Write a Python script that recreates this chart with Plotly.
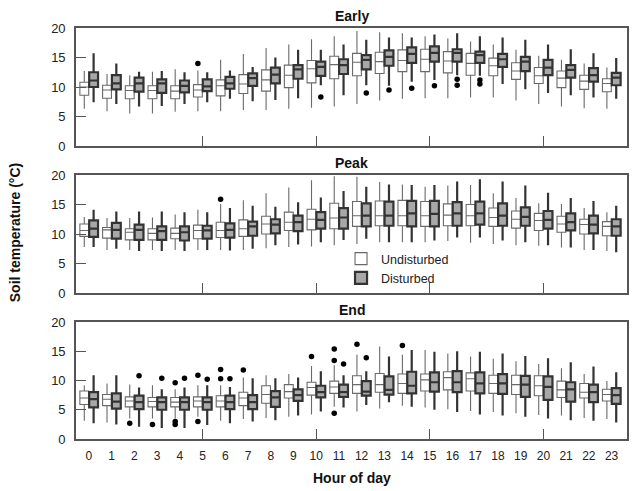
import plotly.graph_objects as go

HOURS = list(range(24))
HOUR_LABELS = [str(h) for h in HOURS]
PANELS = ["Early", "Peak", "End"]

# ---------------- Early ----------------
EARLY_U_Q1 = [8.6, 8.1, 8.0, 8.0, 8.0, 8.3, 8.5, 8.9, 9.3, 9.9, 10.7, 11.4, 11.9, 12.3, 12.6, 12.6, 12.4, 12.0, 11.9, 11.3, 10.6, 9.9, 9.6, 9.2]
EARLY_U_MED = [10.0, 9.5, 9.4, 9.4, 9.3, 9.5, 10.2, 10.5, 11.2, 12.0, 13.1, 13.8, 14.2, 14.3, 14.5, 14.7, 14.4, 14.0, 13.6, 12.7, 11.9, 11.5, 11.0, 10.6]
EARLY_U_Q3 = [10.8, 10.3, 10.2, 10.2, 10.2, 10.4, 11.2, 12.1, 12.9, 13.7, 14.5, 15.2, 15.7, 15.9, 16.3, 16.4, 16.0, 15.7, 14.9, 14.1, 13.3, 12.7, 12.0, 11.4]
EARLY_U_LO = [6.3, 5.9, 5.5, 5.5, 5.8, 5.9, 5.9, 6.1, 6.1, 6.3, 6.5, 6.7, 7.1, 7.7, 8.0, 8.1, 8.1, 8.2, 8.2, 7.7, 7.1, 6.7, 6.4, 6.3]
EARLY_U_HI = [12.7, 12.2, 12.0, 12.6, 13.0, 12.8, 14.6, 15.6, 16.6, 17.2, 18.1, 18.6, 19.5, 19.3, 19.1, 18.6, 18.2, 17.7, 17.2, 16.3, 15.3, 14.6, 14.0, 13.3]
EARLY_D_Q1 = [10.0, 9.6, 9.2, 9.0, 9.1, 9.3, 9.7, 10.2, 10.6, 11.4, 11.9, 12.2, 13.0, 13.6, 14.1, 14.3, 14.3, 14.1, 13.4, 12.7, 12.0, 11.6, 10.9, 10.3]
EARLY_D_MED = [11.1, 10.6, 10.6, 10.6, 10.2, 10.1, 10.6, 11.5, 12.1, 13.0, 13.4, 13.7, 14.6, 15.1, 15.6, 15.8, 15.8, 15.4, 14.7, 14.3, 13.3, 12.9, 12.0, 11.6]
EARLY_D_Q3 = [12.5, 12.0, 11.6, 11.3, 11.1, 11.3, 11.7, 12.3, 13.3, 13.7, 14.3, 14.7, 15.4, 16.2, 16.7, 16.9, 16.4, 16.0, 15.6, 15.1, 14.6, 13.7, 13.2, 12.4]
EARLY_D_LO = [7.4, 7.1, 6.7, 6.8, 7.1, 7.4, 8.0, 7.6, 7.8, 8.1, 10.3, 8.6, 10.3, 10.2, 10.9, 11.2, 12.0, 11.9, 10.5, 9.6, 9.0, 8.6, 8.2, 8.0]
EARLY_D_HI = [15.7, 14.0, 12.6, 12.7, 12.5, 12.5, 12.8, 13.4, 15.0, 16.3, 16.3, 17.2, 18.0, 18.4, 18.4, 18.9, 19.1, 18.6, 18.4, 18.0, 17.2, 16.4, 15.7, 14.9]
EARLY_U_OUT_H = [5]
EARLY_U_OUT_V = [14.0]
EARLY_D_OUT_H = [10, 12, 13, 14, 15, 16, 16, 17, 17]
EARLY_D_OUT_V = [8.3, 9.0, 9.5, 9.8, 10.2, 11.3, 10.3, 11.2, 10.5]

# ---------------- Peak ----------------
PEAK_U_Q1 = [9.6, 9.3, 9.0, 9.0, 9.2, 9.2, 9.4, 9.6, 10.0, 10.6, 10.7, 10.9, 11.3, 11.4, 11.4, 11.3, 11.4, 11.4, 11.3, 11.0, 10.6, 10.3, 10.0, 9.7]
PEAK_U_MED = [10.6, 10.7, 10.3, 10.1, 10.1, 10.6, 10.6, 10.9, 11.7, 12.0, 12.5, 12.7, 13.1, 13.1, 13.1, 13.1, 13.2, 13.1, 12.8, 12.5, 12.3, 11.7, 11.6, 11.3]
PEAK_U_Q3 = [11.7, 11.1, 10.9, 10.9, 11.0, 11.5, 12.0, 12.4, 13.0, 13.7, 14.2, 15.2, 15.5, 15.6, 15.7, 15.5, 15.1, 15.0, 14.4, 13.9, 13.5, 13.0, 12.5, 12.1]
PEAK_U_LO = [7.8, 7.3, 7.3, 7.3, 7.3, 7.3, 7.3, 7.3, 7.6, 7.8, 7.9, 8.1, 8.3, 8.6, 8.6, 8.6, 8.8, 8.5, 8.3, 8.1, 8.0, 7.7, 7.3, 7.1]
PEAK_U_HI = [12.9, 12.7, 12.7, 12.8, 13.3, 14.1, 15.1, 15.7, 16.9, 17.9, 19.1, 19.8, 19.7, 18.8, 18.4, 18.0, 18.2, 18.3, 16.9, 16.1, 15.2, 15.1, 14.4, 13.7]
PEAK_D_Q1 = [9.5, 9.2, 9.0, 9.0, 8.9, 9.2, 9.4, 9.7, 10.1, 10.5, 10.9, 10.9, 11.3, 11.4, 11.3, 11.3, 11.4, 11.6, 11.4, 11.4, 10.9, 10.6, 10.1, 9.7]
PEAK_D_MED = [10.9, 10.7, 10.7, 10.5, 10.3, 10.6, 10.7, 11.3, 11.6, 12.0, 12.4, 12.8, 13.1, 13.1, 13.5, 13.4, 13.5, 13.5, 13.1, 12.9, 12.4, 12.0, 11.6, 11.3]
PEAK_D_Q3 = [12.3, 11.9, 11.6, 11.3, 11.3, 11.4, 11.8, 12.1, 12.5, 13.1, 13.7, 14.4, 15.2, 15.5, 15.6, 15.6, 15.4, 15.5, 15.2, 14.5, 13.9, 13.5, 13.1, 12.5]
PEAK_D_LO = [7.8, 7.5, 7.1, 7.1, 7.1, 7.3, 7.2, 7.5, 8.1, 8.2, 8.6, 9.0, 9.2, 8.6, 8.6, 8.9, 9.4, 9.4, 8.9, 8.6, 8.1, 7.7, 7.3, 6.9]
PEAK_D_HI = [14.1, 13.8, 13.8, 13.8, 13.7, 13.7, 14.4, 14.8, 14.6, 15.4, 16.2, 17.3, 18.0, 18.4, 18.3, 18.3, 18.9, 19.3, 18.9, 18.2, 17.0, 16.1, 15.6, 14.8]
PEAK_U_OUT_H = [6]
PEAK_U_OUT_V = [15.9]
PEAK_D_OUT_H = []
PEAK_D_OUT_V = []

# ---------------- End ----------------
END_U_Q1 = [5.9, 5.7, 5.5, 5.5, 5.5, 5.5, 5.5, 5.7, 6.1, 7.0, 7.5, 7.8, 7.8, 8.0, 7.8, 8.2, 8.4, 8.2, 7.8, 7.6, 7.4, 7.1, 7.0, 6.5]
END_U_MED = [7.0, 6.8, 6.5, 6.4, 6.3, 6.5, 6.5, 7.0, 7.6, 8.1, 8.8, 8.9, 9.3, 9.3, 9.5, 10.1, 10.5, 10.3, 9.5, 9.3, 9.1, 8.4, 8.0, 7.6]
END_U_Q3 = [8.2, 7.6, 7.2, 7.1, 7.1, 7.2, 7.4, 8.0, 9.1, 9.3, 9.7, 9.9, 10.8, 11.2, 11.1, 11.1, 11.5, 11.3, 10.9, 10.9, 10.8, 9.9, 9.5, 8.5]
END_U_LO = [3.1, 2.8, 3.5, 3.5, 3.5, 3.8, 3.1, 3.4, 3.6, 3.8, 4.2, 5.5, 4.7, 5.2, 5.7, 5.4, 5.1, 4.8, 4.6, 4.4, 4.1, 4.0, 3.6, 3.4]
END_U_HI = [9.2, 9.5, 9.3, 9.2, 8.5, 9.2, 9.2, 10.5, 10.9, 11.1, 12.5, 12.6, 14.4, 15.8, 14.4, 15.2, 14.6, 14.1, 13.7, 13.3, 12.8, 12.1, 11.1, 9.9]
END_D_Q1 = [5.4, 5.2, 5.1, 5.0, 5.0, 5.0, 5.1, 5.1, 5.5, 6.5, 7.1, 7.2, 7.4, 7.6, 7.8, 8.1, 8.0, 7.8, 7.7, 7.2, 6.7, 6.4, 6.3, 6.0]
END_D_MED = [6.8, 6.4, 6.3, 6.3, 6.3, 6.3, 6.3, 6.3, 7.1, 7.5, 8.0, 8.0, 8.1, 8.4, 9.1, 9.7, 9.7, 9.5, 9.5, 9.3, 8.9, 8.5, 8.0, 7.5]
END_D_Q3 = [8.0, 7.8, 7.4, 7.1, 7.1, 7.1, 7.4, 7.5, 8.2, 8.5, 9.1, 9.3, 9.9, 10.7, 11.5, 11.4, 11.6, 11.4, 11.1, 10.8, 10.7, 9.7, 9.3, 8.7]
END_D_LO = [2.7, 2.5, 2.1, 1.9, 1.9, 2.4, 2.7, 3.0, 3.2, 4.0, 4.7, 5.4, 5.8, 6.3, 5.5, 5.0, 4.6, 4.2, 4.0, 3.8, 3.5, 3.2, 3.1, 2.8]
END_D_HI = [10.9, 10.9, 8.8, 8.5, 8.8, 9.2, 8.9, 10.4, 10.4, 10.5, 11.6, 10.9, 11.6, 14.1, 15.2, 14.9, 15.0, 14.9, 14.6, 14.2, 13.8, 13.1, 12.4, 11.4]
END_U_OUT_H = [2, 3, 4, 4, 4, 5, 5, 6, 6, 7, 10, 11, 11, 11, 12, 14]
END_U_OUT_V = [2.7, 2.5, 9.6, 3.0, 2.5, 10.9, 3.0, 11.9, 10.3, 11.8, 14.1, 15.4, 13.4, 4.4, 16.2, 16.0]
END_D_OUT_H = [2, 3, 4, 5, 6, 11, 12]
END_D_OUT_V = [10.8, 10.4, 10.4, 10.2, 10.3, 12.8, 13.9]

DATA = {
    "Early": dict(U=(EARLY_U_Q1, EARLY_U_MED, EARLY_U_Q3, EARLY_U_LO, EARLY_U_HI, EARLY_U_OUT_H, EARLY_U_OUT_V),
                  D=(EARLY_D_Q1, EARLY_D_MED, EARLY_D_Q3, EARLY_D_LO, EARLY_D_HI, EARLY_D_OUT_H, EARLY_D_OUT_V)),
    "Peak": dict(U=(PEAK_U_Q1, PEAK_U_MED, PEAK_U_Q3, PEAK_U_LO, PEAK_U_HI, PEAK_U_OUT_H, PEAK_U_OUT_V),
                 D=(PEAK_D_Q1, PEAK_D_MED, PEAK_D_Q3, PEAK_D_LO, PEAK_D_HI, PEAK_D_OUT_H, PEAK_D_OUT_V)),
    "End": dict(U=(END_U_Q1, END_U_MED, END_U_Q3, END_U_LO, END_U_HI, END_U_OUT_H, END_U_OUT_V),
                D=(END_D_Q1, END_D_MED, END_D_Q3, END_D_LO, END_D_HI, END_D_OUT_H, END_D_OUT_V)),
}

FONT = "Liberation Sans, Arial, Helvetica, sans-serif"
BOXGAP = 0.18
BOXGROUPGAP = 0.05
OFFSET = (1 - BOXGAP) / 4  # centre offset of each of the two boxes in a group

STYLE = {
    "U": dict(name="Undisturbed", fill="#ffffff", line="#6a6a6a", width=1.1, sign=-1),
    "D": dict(name="Disturbed", fill="#a8a8a8", line="#333333", width=2.2, sign=1),
}

W, H = 636, 491
ML, MR, MT, MB = 76, 7, 28, 52
PH = H - MT - MB
PANEL_PX = [(28, 146), (175, 293), (322, 439)]
DOMAINS = [[(H - MB - b) / PH, (H - MB - t) / PH] for t, b in PANEL_PX]

fig = go.Figure()
for i, panel in enumerate(PANELS):
    xa = "x" if i == 0 else f"x{i+1}"
    ya = "y" if i == 0 else f"y{i+1}"
    for key in ("U", "D"):
        q1, med, q3, lo, hi, oh, ov = DATA[panel][key]
        st = STYLE[key]
        fig.add_trace(go.Box(
            x=HOURS, q1=q1, median=med, q3=q3, lowerfence=lo, upperfence=hi,
            name=st["name"], fillcolor=st["fill"],
            line=dict(color=st["line"], width=st["width"]),
            whiskerwidth=0, boxpoints=False,
            offsetgroup=key, alignmentgroup=panel,
            xaxis=xa, yaxis=ya, showlegend=(i == 1), legendgroup=key,
        ))
    for key in ("U", "D"):
        q1, med, q3, lo, hi, oh, ov = DATA[panel][key]
        st = STYLE[key]
        if oh:
            fig.add_trace(go.Scatter(
                x=[h + st["sign"] * OFFSET for h in oh], y=ov, mode="markers",
                marker=dict(color="black", size=5.5), showlegend=False,
                xaxis=xa, yaxis=ya, hoverinfo="skip",
            ))

axis_common = dict(showline=True, linecolor="#555555", linewidth=1.6, mirror=True,
                   showgrid=False, zeroline=False)
layout = dict(
    width=W, height=H, margin=dict(l=ML, r=MR, t=MT, b=MB),
    paper_bgcolor="white", plot_bgcolor="white",
    font=dict(family=FONT, size=12, color="#222222"),
    boxmode="group", boxgap=BOXGAP, boxgroupgap=BOXGROUPGAP,
    showlegend=True,
    legend=dict(x=(342 - ML) / (W - ML - MR), y=(H - MB - 244) / PH, xanchor="left", yanchor="top",
                bgcolor="rgba(0,0,0,0)", font=dict(size=12.5, family=FONT, color="#222"),
                itemwidth=30, tracegroupgap=0),
)
for i in range(3):
    sx = "" if i == 0 else str(i + 1)
    layout[f"xaxis{sx}"] = dict(
        axis_common, domain=[0, 1], range=[-0.57, 23.68],
        anchor=f"y{sx}", tickmode="array", tickvals=HOURS, ticktext=HOUR_LABELS,
        ticks="", showticklabels=(i == 2), ticklabelstandoff=5,
        tickfont=dict(size=12, family=FONT, color="#222"),
        minor=dict(tickmode="array", tickvals=[5, 10, 15, 20], ticks="inside",
                   ticklen=10, tickwidth=1.3, tickcolor="#555555"),
    )
    layout[f"yaxis{sx}"] = dict(
        axis_common, domain=DOMAINS[i], range=[0, 20], anchor=f"x{sx}",
        tickmode="array", tickvals=[0, 5, 10, 15, 20], ticks="inside", ticklen=10,
        tickwidth=1.3, tickcolor="#555555", ticklabelstandoff=6,
        tickfont=dict(size=13, family=FONT, color="#222"),
    )

ann = []
for i, panel in enumerate(PANELS):
    ann.append(dict(text=f"<b>{panel}</b>", x=0.5, xref="paper", y=DOMAINS[i][1], yref="paper",
                    xanchor="center", yanchor="bottom", yshift=2, showarrow=False,
                    font=dict(size=14, family=FONT, color="#111")))
ann.append(dict(text="<b>Hour of day</b>", x=0.5, xref="paper", y=(H - MB - 478) / PH, yref="paper",
                xanchor="center", yanchor="middle", showarrow=False,
                font=dict(size=14, family=FONT, color="#111")))
ann.append(dict(text="<b>Soil temperature (°C)</b>", x=(15 - ML) / (W - ML - MR), xref="paper",
                y=(H - MB - 233) / PH, yref="paper", textangle=-90,
                xanchor="center", yanchor="middle", showarrow=False,
                font=dict(size=14, family=FONT, color="#111")))
layout["annotations"] = ann

fig.update_layout(**layout)
fig.write_html("out.html")
